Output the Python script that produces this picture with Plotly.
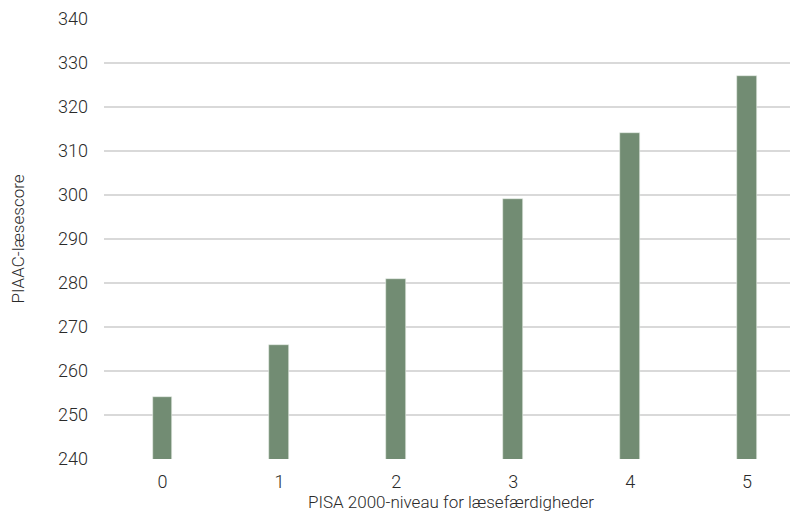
import plotly.graph_objects as go

categories = ["0", "1", "2", "3", "4", "5"]
values = [254, 266, 281, 299, 314, 327]
y_ticks = [240, 250, 260, 270, 280, 290, 300, 310, 320, 330, 340]

fig = go.Figure(go.Bar(
    x=list(range(len(categories))), y=values,
    width=0.17,
    marker=dict(color="#728c73", line=dict(color="#e8efe8", width=0.6)),
))

font_family = "Roboto, 'Noto Sans', sans-serif"
fig.update_layout(
    width=790, height=517,
    margin=dict(l=96, r=0, t=11, b=66),
    plot_bgcolor="white", paper_bgcolor="white",
    showlegend=False,
    font=dict(family=font_family, size=18, color="#2a2a2a", weight=300),
    bargap=0,
)
fig.update_xaxes(
    range=[-0.5, 5.436],
    tickmode="array", tickvals=list(range(len(categories))), ticktext=categories,
    showgrid=False, zeroline=False, showline=False,
    ticks="", ticklen=0, ticklabelstandoff=10,
    title=dict(text="PISA 2000-niveau for læsefærdigheder", font=dict(size=17, weight=300), standoff=4),
    tickfont=dict(size=18, weight=300),
)
fig.update_yaxes(
    range=[240, 340], tickvals=y_ticks,
    showgrid=True, gridcolor="#d9d9d9", gridwidth=1.5,
    zeroline=False, showline=False, ticks="", ticklabelstandoff=15,
    title=dict(text="PIAAC-læsescore", font=dict(size=17, weight=300), standoff=30),
    tickfont=dict(size=18, weight=300),
)
fig.write_html("out.html")
